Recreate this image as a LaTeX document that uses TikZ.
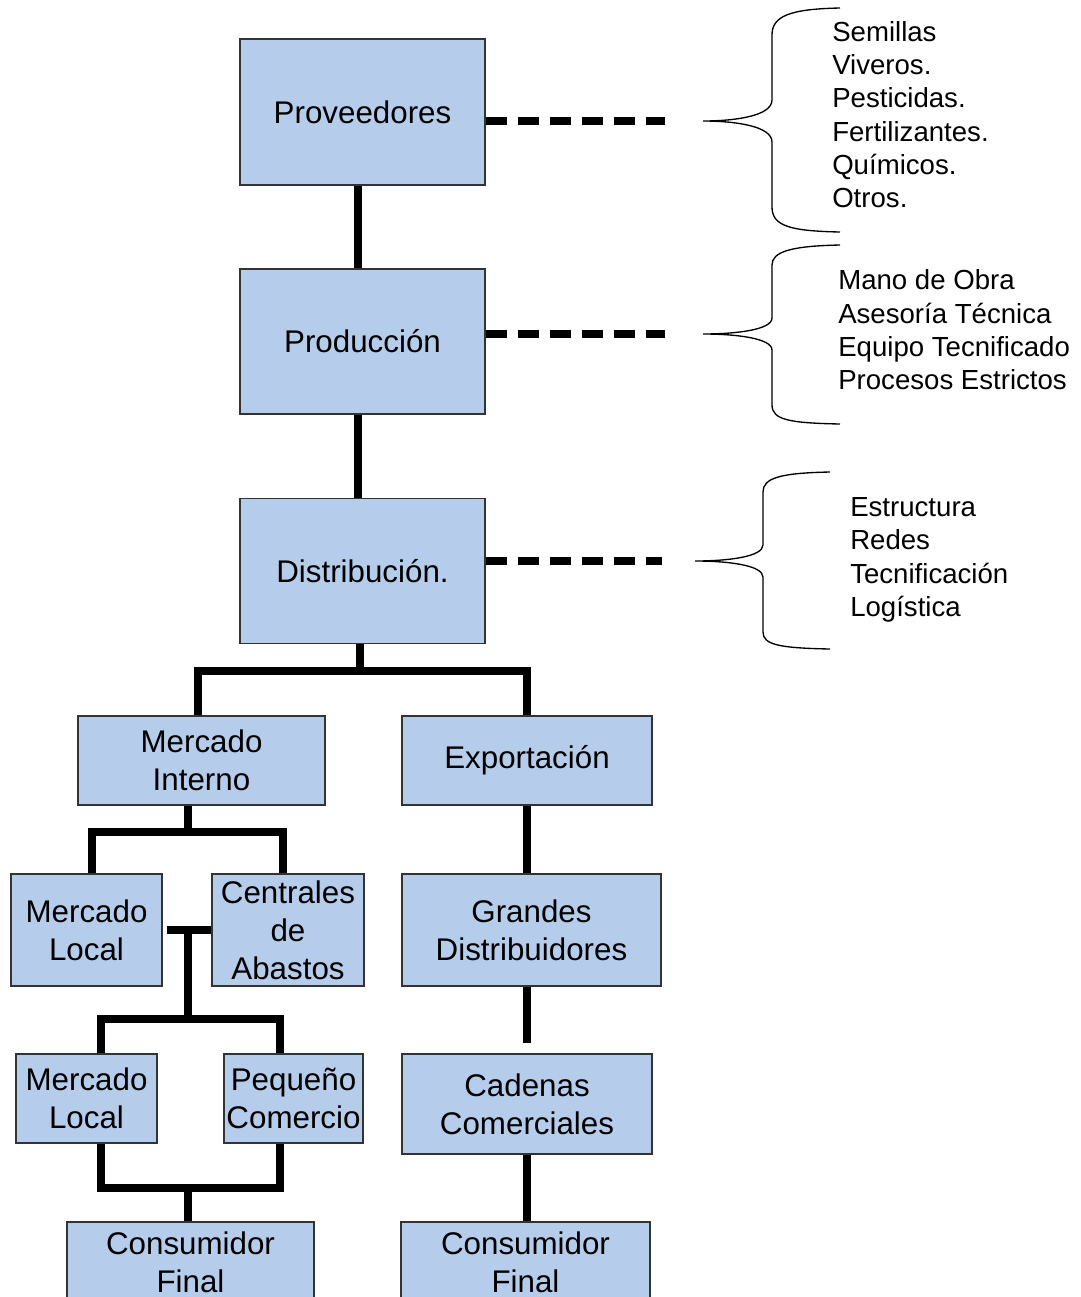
\documentclass[tikz,border=0pt]{standalone}
\usepackage{fontspec}
\setmainfont{Liberation Sans}
\usepackage{tikz}
\usepackage{xcolor}
\definecolor{cajaazul}{RGB}{181,205,235}

\begin{document}
\begin{tikzpicture}[x=0.75pt, y=-0.75pt, node distance=172pt,
  caja/.style 2 args={draw=black!80, line width=1pt, fill=cajaazul, rectangle, align=center, inner sep=1pt,
    minimum width=#1*0.75pt, minimum height=#2*0.75pt, font=\fontsize{23.5}{28.5}\selectfont},
  enlace/.style={line width=6pt, line join=miter},
  punteado/.style={line width=6pt, dash pattern=on 15.75pt off 8.25pt},
  llave/.style={line width=1pt},
  lista/.style={anchor=west, align=left, inner sep=0pt, font=\fontsize{20.7}{25}\selectfont}]
\useasboundingbox (0,0) rectangle (1081,1297);

% cadena principal
\node[caja={245}{146}] (prov) at (362.5,112) {Proveedores};
\node[caja={245}{145}, below of=prov] (prod) {Producción};
\node[caja={245}{145}, below of=prod] (dist) {Distribución.};
\draw[enlace] ([xshift=-3.5pt]prov.south) -- ([xshift=-3.5pt]prod.north);
\draw[enlace] ([xshift=-3.5pt]prod.south) -- ([xshift=-3.5pt]dist.north);

% insumos de cada etapa
\coordinate (d1) at (665,121);
\coordinate (d2) at (665,334);
\coordinate (d3) at (662,561);
\draw[punteado] (prov.east |- d1) -- (d1);
\draw[punteado] (prod.east |- d2) -- (d2);
\draw[punteado] (dist.east |- d3) -- (d3);

\draw[llave] (840,8) .. controls (790,9) and (772,16) .. (772,35) -- (772,100)
  .. controls (772,116) and (735,121) .. (703,121) .. controls (735,121) and (772,126) .. (772,142)
  -- (772,207) .. controls (772,226) and (790,231) .. (840,232);
\draw[llave] (840,245) .. controls (790,246) and (772,252) .. (772,265) -- (772,318)
  .. controls (772,330) and (735,334) .. (703,334) .. controls (735,334) and (772,338) .. (772,350)
  -- (772,405) .. controls (772,420) and (790,423) .. (840,424);
\draw[llave] (830,472) .. controls (780,473) and (763,478) .. (763,492) -- (763,545)
  .. controls (763,557) and (727,561) .. (695,561) .. controls (727,561) and (763,565) .. (763,577)
  -- (763,632) .. controls (763,645) and (780,648) .. (830,649);

\node[lista] (lst1) at (832,114.5) {Semillas\\Viveros.\\Pesticidas.\\Fertilizantes.\\Químicos.\\Otros.};
\node[lista] (lst2) at (838,330) {Mano de Obra\\Asesoría Técnica\\Equipo Tecnificado\\Procesos Estrictos};
\node[lista] (lst3) at (850,560) {Estructura\\Redes\\Tecnificación\\Logística};

% mercados
\node[caja={247}{89}] (mint) at (201.5,760.5) {Mercado\\Interno};
\node[caja={250}{89}] (expo) at (527,760.5) {Exportación};
\coordinate (j1) at (360,671);
\draw[enlace] (dist.south -| j1) -- (j1);
\draw[enlace] ([xshift=-3pt]mint.north) |- (j1) -| (expo.north);

% mercado interno
\node[caja={151}{112}] (ml1) at (86.5,930) {Mercado\\Local};
\node[caja={152}{112}] (cda) at (288,930) {Centrales\\de\\Abastos};
\coordinate (j2) at (188,832);
\draw[enlace] (j2 |- mint.south) -- (j2);
\draw[enlace] ([xshift=4pt]ml1.north) |- (j2) -| ([xshift=-4pt]cda.north);

\node[caja={141}{89}] (ml2) at (86.5,1098.5) {Mercado\\Local};
\node[caja={139}{89}] (pc) at (293.5,1098.5) {Pequeño\\Comercio};
\coordinate (t1) at (167,930);
\coordinate (t2) at (188,930);
\coordinate (j3) at (188,1019);
\draw[enlace] (t1) -- (cda.west);
\draw[enlace] (t2) -- (j3);
\draw[enlace] ([xshift=10.5pt]ml2.north) |- (j3) -| ([xshift=-10pt]pc.north);

\node[caja={247}{80}] (cf1) at (190.5,1262) {Consumidor\\Final};
\coordinate (j4) at (188,1188);
\draw[enlace] ([xshift=10.5pt]ml2.south) |- (j4) -| ([xshift=-10pt]pc.south);
\draw[enlace] (j4) -- (j4 |- cf1.north);

% exportacion
\node[caja={259}{112}] (gd) at (531.5,930) {Grandes\\Distribuidores};
\node[caja={250}{100}] (cc) at (527,1104) {Cadenas\\Comerciales};
\node[caja={249}{80}] (cf2) at (525.5,1262) {Consumidor\\Final};
\draw[enlace] (expo.south) -- (expo.south |- gd.north);
\draw[enlace, shorten >=8pt] (cc.north |- gd.south) -- (cc.north);
\draw[enlace] (cc.south) -- (cc.south |- cf2.north);
\end{tikzpicture}
\end{document}
